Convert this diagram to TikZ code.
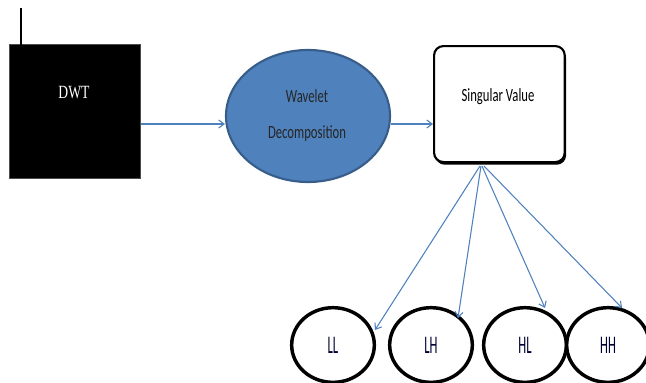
\documentclass[tikz,border=0pt]{standalone}
\usepackage{fontspec}
\setmainfont{Carlito}
\newfontfamily\serifdwt{Liberation Serif}
\usetikzlibrary{shapes.geometric,arrows.meta,shadows}
\definecolor{accblue}{HTML}{4F81BD}
\definecolor{accdark}{HTML}{385D8A}
\tikzset{
  conn/.style={draw=accblue, line width=0.8pt, -{Straight Barb[length=4pt,width=6pt]}},
  band/.style={ellipse, draw=black, line width=2.6pt, fill=white, minimum width=62pt, minimum height=56pt, inner sep=0pt},
  bandtxt/.style={font=\fontsize{19}{21}\selectfont, xscale=0.5, text=black!80!blue},
}
\begin{document}
\begin{tikzpicture}[x=0.75pt,y=-0.75pt]
\useasboundingbox (0,0) rectangle (646,382);
% DWT
\node[draw=black!70, fill=black, minimum width=98.25pt, minimum height=100.5pt, inner sep=0pt, anchor=north west] (dwt) at (9,44) {};
\node[text=white, font=\serifdwt\fontsize{14}{16}\selectfont, xscale=0.73] (dwtt) at (74,93) {DWT};
\coordinate (tick) at (21,8);
\draw[black, line width=1pt] (tick) -- (21,47);
% Wavelet ellipse
\node[ellipse, draw=accdark, line width=1.6pt, fill=accblue, minimum width=123pt, minimum height=99pt, inner sep=0pt] (wd) at (308,116) {};
\node[font=\fontsize{14}{16}\selectfont, text=black!85, xscale=0.68] (wdt1) at (307,96) {Wavelet};
\node[font=\fontsize{14}{16}\selectfont, text=black!85, xscale=0.68] (wdt2) at (307,134) {Decomposition};
% Singular value
\node[draw=black, line width=1.6pt, rounded corners=7pt, fill=white, minimum width=98pt, minimum height=87pt, inner sep=0pt, anchor=north west, drop shadow={shadow xshift=1pt, shadow yshift=-2pt, fill=black, opacity=1}] (sv) at (433,45) {};
\node[font=\fontsize{14}{16}\selectfont, xscale=0.68] (svt) at (498,97) {Singular Value};
% bands
\node[band] (ll) at (333,345) {};
\node[band] (lh) at (431,345) {};
\node[band] (hl) at (525,345) {};
\node[band] (hh) at (608,345) {};
\node[bandtxt] (llt) at (ll) {LL};
\node[bandtxt] (lht) at (lh) {LH};
\node[bandtxt] (hlt) at (hl) {HL};
\node[bandtxt] (hht) at (hh) {HH};
% connectors
\draw[conn] (dwt.east |- 0,124) -- (wd.west |- 0,124);
\draw[conn] (wd.east |- 0,124) -- (sv.west |- 0,124);
\coordinate (s1) at (480,166);
\coordinate (s2) at (481,166);
\coordinate (s3) at (482,166);
\coordinate (s4) at (484,166);
\coordinate (e1) at (375,330);
\coordinate (e2) at (458,318);
\coordinate (e3) at (545,308);
\coordinate (e4) at (622,308);
\draw[conn] (s1) -- (e1);
\draw[conn] (s2) -- (e2);
\draw[conn] (s3) -- (e3);
\draw[conn] (s4) -- (e4);
\end{tikzpicture}
\end{document}
